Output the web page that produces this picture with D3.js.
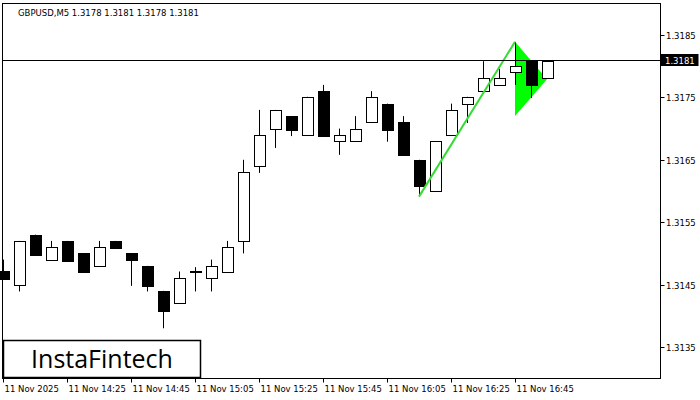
<!DOCTYPE html>
<html><head><meta charset="utf-8">
<script src="https://cdn.jsdelivr.net/npm/d3@7"></script>
<style>body{margin:0;background:#fff}svg text{font-family:"DejaVu Sans",sans-serif;font-size:8.5px}</style>
</head><body><svg id="c" width="700" height="400"></svg>
<script>
var opens  = [1.31471,1.31450,1.31530,1.31490,1.31520,1.31500,1.31480,1.31520,1.31500,1.31480,1.31440,1.31420,1.31471,1.31460,1.31471,1.31520,1.31640,1.31700,1.31720,1.31690,1.31760,1.31680,1.31680,1.31711,1.31740,1.31711,1.31650,1.31600,1.31690,1.31740,1.31760,1.31770,1.31791,1.31808,1.31781];
var highs  = [1.31490,1.31520,1.31530,1.31520,1.31520,1.31500,1.31520,1.31520,1.31500,1.31480,1.31440,1.31471,1.31478,1.31490,1.31520,1.31650,1.31730,1.31730,1.31720,1.31751,1.31770,1.31700,1.31720,1.31760,1.31740,1.31720,1.31650,1.31680,1.31740,1.31751,1.31808,1.31796,1.31839,1.31808,1.31808];
var lows   = [1.31458,1.31439,1.31498,1.31490,1.31488,1.31469,1.31480,1.31509,1.31448,1.31439,1.31380,1.31420,1.31439,1.31439,1.31471,1.31500,1.31629,1.31669,1.31688,1.31690,1.31688,1.31658,1.31680,1.31711,1.31679,1.31658,1.31591,1.31600,1.31690,1.31709,1.31760,1.31770,1.31770,1.31749,1.31781];
var closes = [1.31458,1.31520,1.31498,1.31511,1.31488,1.31469,1.31511,1.31509,1.31488,1.31448,1.31408,1.31460,1.31471,1.31480,1.31511,1.31631,1.31690,1.31730,1.31698,1.31751,1.31688,1.31690,1.31700,1.31751,1.31698,1.31658,1.31608,1.31680,1.31730,1.31751,1.31781,1.31781,1.31800,1.31770,1.31808];
var priceTicks = [1.3185,1.3175,1.3165,1.3155,1.3145,1.3135];
var timeLabels = ["11 Nov 2025","11 Nov 14:25","11 Nov 14:45","11 Nov 15:05","11 Nov 15:25","11 Nov 15:45","11 Nov 16:05","11 Nov 16:25","11 Nov 16:45"];
var lastPrice = 1.3181;
// flagpole + pennant (candle index, price)
var pole = [[26,1.31591],[32,1.31839]];
var pennant = [[32,1.31839],[32,1.31720],[34,1.31779]];

var svg = d3.select('#c');
var x = d3.scaleLinear().domain([0,34]).range([3,547]);
var y = d3.scaleLinear().domain([1.3135,1.3185]).range([347,35]);
var L = 2.5, R = 660.5, T = 3.5, B = 378.5;

svg.append('text').attr('x',18).attr('y',16).text('GBPUSD,M5  1.3178 1.3181 1.3178 1.3181');

var px = d=>[x(d[0]),y(d[1])];
svg.append('polygon').attr('points',pennant.map(d=>px(d).join(',')).join(' ')).attr('fill','#00ff00');

var g = svg.append('g');
var c = g.selectAll('.c').data(opens).enter().append('g');
c.append('line')
  .attr('x1',(d,i)=>Math.round(x(i))+0.5).attr('x2',(d,i)=>Math.round(x(i))+0.5)
  .attr('y1',(d,i)=>y(highs[i])).attr('y2',(d,i)=>y(lows[i]))
  .attr('stroke','#000');
c.append('rect')
  .attr('x',(d,i)=>Math.round(x(i))-5+0.5).attr('width',11)
  .attr('y',(d,i)=>Math.round(y(Math.max(d,closes[i])))+0.5)
  .attr('height',(d,i)=>Math.max(1,Math.round(Math.abs(y(d)-y(closes[i])))))
  .attr('fill',(d,i)=>closes[i]<d?'#000':'#fff').attr('stroke','#000');

svg.append('line').attr('x1',x(pole[0][0])).attr('y1',y(pole[0][1])).attr('x2',x(pole[1][0])).attr('y2',y(pole[1][1]))
  .attr('stroke','#33dd33').attr('stroke-width',2);

svg.append('line').attr('x1',L).attr('x2',R).attr('y1',Math.round(y(lastPrice))+0.5).attr('y2',Math.round(y(lastPrice))+0.5).attr('stroke','#000');

svg.append('rect').attr('x',L).attr('y',T).attr('width',R-L).attr('height',B-T).attr('fill','none').attr('stroke','#000');

priceTicks.forEach(p=>{
  var yy = Math.round(y(p))+0.5;
  svg.append('line').attr('x1',R).attr('x2',R+4).attr('y1',yy).attr('y2',yy).attr('stroke','#000');
  svg.append('text').attr('x',666).attr('y',yy+3).text(p.toFixed(4));
});
var ly = Math.round(y(lastPrice));
svg.append('rect').attr('x',R).attr('y',ly-6).attr('width',38).attr('height',12).attr('fill','#000');
svg.append('text').attr('x',665).attr('y',ly+3.5).attr('fill','#fff').text(lastPrice.toFixed(4));

timeLabels.forEach((t,k)=>{
  var xx = Math.round(x(k*4))+0.5;
  svg.append('line').attr('x1',xx).attr('x2',xx).attr('y1',B).attr('y2',B+4).attr('stroke','#000');
  svg.append('text').attr('x',xx+1).attr('y',392).text(t);
});

svg.append('rect').attr('x',3.5).attr('y',340.5).attr('width',197).attr('height',37).attr('fill','#fff').attr('stroke','#000').attr('stroke-width',1.5);
svg.append('text').attr('x',102).attr('y',368).attr('text-anchor','middle')
  .style('font-size','25px').style('font-family','"Open Sans","DejaVu Sans",sans-serif').style('font-weight','500').text('InstaFintech');
</script></body></html>
